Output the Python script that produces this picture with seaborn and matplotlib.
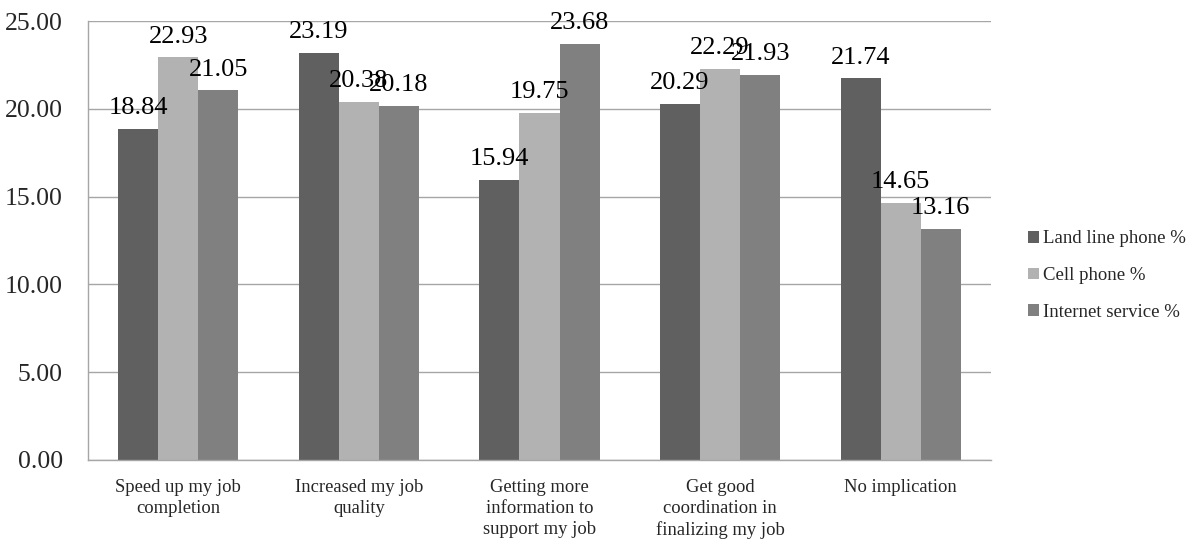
import matplotlib
matplotlib.use("Agg")
import matplotlib.pyplot as plt
import seaborn as sns
import pandas as pd
import numpy as np

categories = ["Speed up my job\ncompletion", "Increased my job\nquality",
              "Getting more\ninformation to\nsupport my job",
              "Get good\ncoordination in\nfinalizing my job", "No implication"]
series = ["Land line phone %", "Cell phone %", "Internet service %"]
landline = [18.84, 23.19, 15.94, 20.29, 21.74]
cell = [22.93, 20.38, 19.75, 22.29, 14.65]
internet = [21.05, 20.18, 23.68, 21.93, 13.16]
yticks = [0, 5, 10, 15, 20, 25]

sns.set_style("white")
plt.rcParams['font.family'] = ['Liberation Serif', 'DejaVu Serif']

df = pd.DataFrame({
    "cat": categories * 3,
    "series": [series[0]] * 5 + [series[1]] * 5 + [series[2]] * 5,
    "val": landline + cell + internet,
})

fig = plt.figure(figsize=(11.93, 5.47), dpi=100)
ax = fig.add_axes([88 / 1193, 1 - 460 / 547, (991 - 88) / 1193, (460 - 21) / 547])
palette = ["#606060", "#b2b2b2", "#808080"]
sns.barplot(data=df, x="cat", y="val", hue="series", palette=palette,
            width=0.665, dodge=True, ax=ax, saturation=1, legend=True,
            edgecolor="none", linewidth=0)

for cont in ax.containers:
    ax.bar_label(cont, fmt="%.2f", padding=7, fontsize=19, color="#000000")

ax.set_ylim(0, 25)
ax.set_xlim(-0.5, 4.5)
ax.set_yticks(yticks)
ax.set_yticklabels([f"{v:.2f}" for v in yticks], fontsize=18.5)
ax.yaxis.grid(True, color="#a6a6a6", linewidth=1)
ax.set_axisbelow(True)
ax.set_xlabel("")
ax.set_ylabel("")
ax.tick_params(axis="x", which="major", length=0, labelsize=13.4, pad=14)
for lab in ax.get_xticklabels():
    lab.set_linespacing(1.3)
ax.set_xticks(np.arange(-0.5, 5.0, 1.0), minor=True)
ax.tick_params(axis="x", which="minor", length=6, color="#a6a6a6", width=1, direction="out")
ax.tick_params(axis="y", which="major", length=6, color="#a6a6a6", width=1, direction="out", pad=12)
for s in ["top", "right"]:
    ax.spines[s].set_visible(False)
for s in ["left", "bottom"]:
    ax.spines[s].set_color("#a6a6a6")
    ax.spines[s].set_linewidth(1)

leg = ax.legend(loc="center left", bbox_to_anchor=(1.022, 0.42), frameon=False,
                fontsize=13.5, handlelength=0.6, handleheight=0.6,
                handletextpad=0.2, labelspacing=1.05)

fig.savefig("out.png", dpi=100)
